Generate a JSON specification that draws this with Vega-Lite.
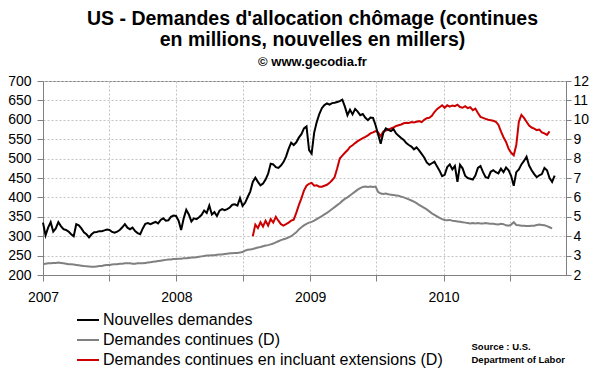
{
"$schema":"https://vega.github.io/schema/vega-lite/v6.json",
"width":523,"height":194,
"autosize":{"type":"none"},
"padding":{"left":43,"top":81,"right":34,"bottom":97},
"background":"white",
"title":{"text":["US - Demandes d'allocation chômage (continues","en millions, nouvelles en millers)"],"subtitle":"© www.gecodia.fr","font":"Liberation Sans","fontSize":19.5,"fontWeight":"bold","lineHeight":21,"color":"black","subtitleFont":"Liberation Sans","subtitleFontSize":13,"subtitleFontWeight":"bold","subtitleColor":"black","subtitlePadding":6,"anchor":"middle","frame":"group","offset":4,"dx":8},
"data":{"values":[
{"d":"2007-01-01","n":335,"c":2.56},{"d":"2007-01-08","n":302,"c":2.58},{"d":"2007-01-15","n":322,"c":2.6},{"d":"2007-01-22","n":336,"c":2.6},{"d":"2007-01-29","n":312,"c":2.62},
{"d":"2007-02-05","n":320,"c":2.62},{"d":"2007-02-12","n":336,"c":2.64},{"d":"2007-02-19","n":326,"c":2.62},{"d":"2007-02-26","n":318,"c":2.6},
{"d":"2007-03-05","n":316,"c":2.58},{"d":"2007-03-12","n":312,"c":2.56},{"d":"2007-03-19","n":305,"c":2.55},{"d":"2007-03-26","n":300,"c":2.54},
{"d":"2007-04-02","n":331,"c":2.52},{"d":"2007-04-09","n":328,"c":2.5},{"d":"2007-04-16","n":320,"c":2.48},{"d":"2007-04-23","n":310,"c":2.46},{"d":"2007-04-30","n":305,"c":2.45},
{"d":"2007-05-07","n":297,"c":2.44},{"d":"2007-05-14","n":305,"c":2.42},{"d":"2007-05-21","n":310,"c":2.42},{"d":"2007-05-28","n":311,"c":2.44},
{"d":"2007-06-04","n":313,"c":2.46},{"d":"2007-06-11","n":313,"c":2.46},{"d":"2007-06-18","n":315,"c":2.5},{"d":"2007-06-25","n":317,"c":2.52},
{"d":"2007-07-02","n":316,"c":2.52},{"d":"2007-07-09","n":311,"c":2.54},{"d":"2007-07-16","n":309,"c":2.56},{"d":"2007-07-23","n":312,"c":2.56},{"d":"2007-07-30","n":316,"c":2.58},
{"d":"2007-08-06","n":323,"c":2.58},{"d":"2007-08-13","n":331,"c":2.6},{"d":"2007-08-20","n":322,"c":2.6},{"d":"2007-08-27","n":318,"c":2.6},
{"d":"2007-09-03","n":322,"c":2.58},{"d":"2007-09-10","n":313,"c":2.58},{"d":"2007-09-17","n":308,"c":2.6},{"d":"2007-09-24","n":305,"c":2.6},
{"d":"2007-10-01","n":320,"c":2.6},{"d":"2007-10-08","n":332,"c":2.62},{"d":"2007-10-15","n":334,"c":2.64},{"d":"2007-10-22","n":331,"c":2.66},{"d":"2007-10-29","n":334,"c":2.68},
{"d":"2007-11-05","n":337,"c":2.7},{"d":"2007-11-12","n":333,"c":2.72},{"d":"2007-11-19","n":342,"c":2.74},{"d":"2007-11-26","n":346,"c":2.76},
{"d":"2007-12-03","n":340,"c":2.78},{"d":"2007-12-10","n":341,"c":2.8},{"d":"2007-12-17","n":350,"c":2.8},{"d":"2007-12-24","n":353,"c":2.82},{"d":"2007-12-31","n":352,"c":2.82},
{"d":"2008-01-07","n":340,"c":2.84},{"d":"2008-01-14","n":316,"c":2.84},{"d":"2008-01-21","n":346,"c":2.86},{"d":"2008-01-28","n":368,"c":2.86},
{"d":"2008-02-04","n":356,"c":2.88},{"d":"2008-02-11","n":338,"c":2.9},{"d":"2008-02-18","n":346,"c":2.9},{"d":"2008-02-25","n":344,"c":2.92},
{"d":"2008-03-03","n":349,"c":2.94},{"d":"2008-03-10","n":355,"c":2.96},{"d":"2008-03-17","n":366,"c":2.98},{"d":"2008-03-24","n":360,"c":3.0},{"d":"2008-03-31","n":379,"c":3.0},
{"d":"2008-04-07","n":356,"c":3.02},{"d":"2008-04-14","n":362,"c":3.02},{"d":"2008-04-21","n":352,"c":3.04},{"d":"2008-04-28","n":366,"c":3.06},
{"d":"2008-05-05","n":370,"c":3.06},{"d":"2008-05-12","n":367,"c":3.08},{"d":"2008-05-19","n":370,"c":3.1},{"d":"2008-05-26","n":374,"c":3.12},
{"d":"2008-06-02","n":381,"c":3.12},{"d":"2008-06-09","n":382,"c":3.14},{"d":"2008-06-16","n":379,"c":3.14},{"d":"2008-06-23","n":398,"c":3.16},{"d":"2008-06-30","n":378,"c":3.18},
{"d":"2008-07-07","n":386,"c":3.26},{"d":"2008-07-14","n":401,"c":3.3},{"d":"2008-07-21","n":415,"c":3.32},{"d":"2008-07-28","n":440,"c":3.34,"e":4.0},
{"d":"2008-08-04","n":451,"c":3.38,"e":4.6},{"d":"2008-08-11","n":440,"c":3.42,"e":4.42},{"d":"2008-08-18","n":431,"c":3.44,"e":4.72},{"d":"2008-08-25","n":436,"c":3.48,"e":4.5},
{"d":"2008-09-01","n":446,"c":3.52,"e":4.8},{"d":"2008-09-08","n":461,"c":3.54,"e":4.55},{"d":"2008-09-15","n":487,"c":3.58,"e":4.88},{"d":"2008-09-22","n":485,"c":3.62,"e":4.7},{"d":"2008-09-29","n":478,"c":3.68,"e":5.0},
{"d":"2008-10-06","n":476,"c":3.74,"e":4.8},{"d":"2008-10-13","n":482,"c":3.8,"e":4.62},{"d":"2008-10-20","n":491,"c":3.84,"e":4.55},{"d":"2008-10-27","n":505,"c":3.88,"e":4.62},
{"d":"2008-11-03","n":525,"c":3.94,"e":4.7},{"d":"2008-11-10","n":541,"c":4.0,"e":4.8},{"d":"2008-11-17","n":535,"c":4.1,"e":4.85},{"d":"2008-11-24","n":542,"c":4.2,"e":5.2},
{"d":"2008-12-01","n":554,"c":4.35,"e":5.6},{"d":"2008-12-08","n":563,"c":4.46,"e":5.95},{"d":"2008-12-15","n":578,"c":4.56,"e":6.35},{"d":"2008-12-22","n":583,"c":4.64,"e":6.6},{"d":"2008-12-29","n":522,"c":4.7,"e":6.7},
{"d":"2009-01-05","n":513,"c":4.74,"e":6.75},{"d":"2009-01-12","n":567,"c":4.8,"e":6.6},{"d":"2009-01-19","n":594,"c":4.88,"e":6.62},{"d":"2009-01-26","n":615,"c":4.96,"e":6.55},
{"d":"2009-02-02","n":630,"c":5.04,"e":6.55},{"d":"2009-02-09","n":638,"c":5.12,"e":6.6},{"d":"2009-02-16","n":642,"c":5.2,"e":6.65},{"d":"2009-02-23","n":639,"c":5.3,"e":6.75},
{"d":"2009-03-02","n":643,"c":5.4,"e":6.88},{"d":"2009-03-09","n":644,"c":5.5,"e":7.05},{"d":"2009-03-16","n":646,"c":5.6,"e":7.5},{"d":"2009-03-23","n":648,"c":5.7,"e":8.0},{"d":"2009-03-30","n":652,"c":5.82,"e":8.15},
{"d":"2009-04-06","n":634,"c":5.92,"e":8.3},{"d":"2009-04-13","n":612,"c":6.0,"e":8.43},{"d":"2009-04-20","n":626,"c":6.1,"e":8.6},{"d":"2009-04-27","n":614,"c":6.2,"e":8.69},
{"d":"2009-05-04","n":628,"c":6.3,"e":8.8},{"d":"2009-05-11","n":621,"c":6.4,"e":8.9},{"d":"2009-05-18","n":612,"c":6.48,"e":8.98},{"d":"2009-05-25","n":615,"c":6.54,"e":9.05},
{"d":"2009-06-01","n":605,"c":6.56,"e":9.12},{"d":"2009-06-08","n":599,"c":6.54,"e":9.2},{"d":"2009-06-15","n":606,"c":6.56,"e":9.3},{"d":"2009-06-22","n":605,"c":6.54,"e":9.35},{"d":"2009-06-29","n":586,"c":6.56,"e":9.42},
{"d":"2009-07-06","n":562,"c":6.28,"e":9.35},{"d":"2009-07-13","n":538,"c":6.2,"e":9.15},{"d":"2009-07-20","n":566,"c":6.18,"e":9.4},{"d":"2009-07-27","n":578,"c":6.2,"e":9.45},
{"d":"2009-08-03","n":574,"c":6.16,"e":9.5},{"d":"2009-08-10","n":571,"c":6.14,"e":9.55},{"d":"2009-08-17","n":576,"c":6.12,"e":9.6},{"d":"2009-08-24","n":565,"c":6.1,"e":9.68},{"d":"2009-08-31","n":559,"c":6.08,"e":9.72},
{"d":"2009-09-07","n":553,"c":6.04,"e":9.76},{"d":"2009-09-14","n":548,"c":6.0,"e":9.82},{"d":"2009-09-21","n":540,"c":5.95,"e":9.85},{"d":"2009-09-28","n":535,"c":5.9,"e":9.84},
{"d":"2009-10-05","n":531,"c":5.84,"e":9.88},{"d":"2009-10-12","n":524,"c":5.78,"e":9.86},{"d":"2009-10-19","n":529,"c":5.7,"e":9.9},{"d":"2009-10-26","n":521,"c":5.62,"e":9.93},
{"d":"2009-11-02","n":512,"c":5.54,"e":9.88},{"d":"2009-11-09","n":503,"c":5.46,"e":10.0},{"d":"2009-11-16","n":490,"c":5.38,"e":10.08},{"d":"2009-11-23","n":484,"c":5.28,"e":10.1},{"d":"2009-11-30","n":488,"c":5.18,"e":10.2},
{"d":"2009-12-07","n":492,"c":5.1,"e":10.4},{"d":"2009-12-14","n":480,"c":5.02,"e":10.55},{"d":"2009-12-21","n":469,"c":4.94,"e":10.65},{"d":"2009-12-28","n":455,"c":4.88,"e":10.75},
{"d":"2010-01-04","n":458,"c":4.84,"e":10.62},{"d":"2010-01-11","n":478,"c":4.82,"e":10.75},{"d":"2010-01-18","n":485,"c":4.84,"e":10.68},{"d":"2010-01-25","n":472,"c":4.8,"e":10.74},
{"d":"2010-02-01","n":481,"c":4.78,"e":10.7},{"d":"2010-02-08","n":440,"c":4.76,"e":10.78},{"d":"2010-02-15","n":484,"c":4.74,"e":10.66},{"d":"2010-02-22","n":475,"c":4.72,"e":10.62},
{"d":"2010-03-01","n":456,"c":4.7,"e":10.7},{"d":"2010-03-08","n":450,"c":4.68,"e":10.6},{"d":"2010-03-15","n":448,"c":4.66,"e":10.65},{"d":"2010-03-22","n":446,"c":4.68,"e":10.5},{"d":"2010-03-29","n":456,"c":4.66,"e":10.58},
{"d":"2010-04-05","n":476,"c":4.68,"e":10.35},{"d":"2010-04-12","n":481,"c":4.66,"e":10.15},{"d":"2010-04-19","n":465,"c":4.66,"e":10.1},{"d":"2010-04-26","n":452,"c":4.68,"e":10.05},
{"d":"2010-05-03","n":450,"c":4.66,"e":10.0},{"d":"2010-05-10","n":466,"c":4.64,"e":9.98},{"d":"2010-05-17","n":470,"c":4.64,"e":9.95},{"d":"2010-05-24","n":465,"c":4.62,"e":9.9},{"d":"2010-05-31","n":462,"c":4.6,"e":9.75},
{"d":"2010-06-07","n":474,"c":4.64,"e":9.4},{"d":"2010-06-14","n":465,"c":4.62,"e":9.1},{"d":"2010-06-21","n":477,"c":4.56,"e":8.86},{"d":"2010-06-28","n":470,"c":4.54,"e":8.5},
{"d":"2010-07-05","n":455,"c":4.6,"e":8.3},{"d":"2010-07-12","n":430,"c":4.72,"e":8.17},{"d":"2010-07-19","n":465,"c":4.58,"e":8.7},{"d":"2010-07-26","n":472,"c":4.56,"e":9.9},
{"d":"2010-08-02","n":485,"c":4.54,"e":10.25},{"d":"2010-08-09","n":494,"c":4.54,"e":10.1},{"d":"2010-08-16","n":505,"c":4.52,"e":9.9},{"d":"2010-08-23","n":482,"c":4.52,"e":9.7},{"d":"2010-08-30","n":470,"c":4.54,"e":9.6},
{"d":"2010-09-06","n":460,"c":4.54,"e":9.55},{"d":"2010-09-13","n":452,"c":4.58,"e":9.47},{"d":"2010-09-20","n":457,"c":4.6,"e":9.5},{"d":"2010-09-27","n":460,"c":4.58,"e":9.35},
{"d":"2010-10-04","n":476,"c":4.56,"e":9.3},{"d":"2010-10-11","n":470,"c":4.52,"e":9.22},{"d":"2010-10-18","n":450,"c":4.46,"e":9.4},{"d":"2010-10-25","n":440,"c":4.4},
{"d":"2010-11-01","n":456}
]},
"layer":[
{"layer":[
{"mark":{"type":"line","strokeWidth":2},
"encoding":{
"x":{"field":"d","type":"temporal","scale":{"type":"utc","domain":[{"year":2007,"month":1,"date":1,"utc":true},{"year":2010,"month":12,"date":2,"utc":true}]}},
"y":{"field":"c","type":"quantitative","scale":{"domain":[2,12]},"axis":{"orient":"right","values":[2,3,4,5,6,7,8,9,10,11,12],"grid":false,"tickSize":5,"labelPadding":2,"title":null}},
"color":{"datum":"Demandes continues (D)","type":"nominal"}}},
{"mark":{"type":"line","strokeWidth":2},
"encoding":{
"x":{"field":"d","type":"temporal"},
"y":{"field":"e","type":"quantitative","scale":{"domain":[2,12]},"axis":{"orient":"right","values":[2,3,4,5,6,7,8,9,10,11,12],"grid":false,"tickSize":5,"labelPadding":2,"title":null}},
"color":{"datum":"Demandes continues en incluant extensions (D)","type":"nominal"}}}
]},
{"mark":{"type":"line","strokeWidth":2},
"encoding":{
"x":{"field":"d","type":"temporal","axis":{"values":[
{"year":2007,"month":1,"date":1,"utc":true},{"year":2007,"month":4,"date":1,"utc":true},{"year":2007,"month":7,"date":1,"utc":true},{"year":2007,"month":10,"date":1,"utc":true},
{"year":2008,"month":1,"date":1,"utc":true},{"year":2008,"month":4,"date":1,"utc":true},{"year":2008,"month":7,"date":1,"utc":true},{"year":2008,"month":10,"date":1,"utc":true},
{"year":2009,"month":1,"date":1,"utc":true},{"year":2009,"month":4,"date":1,"utc":true},{"year":2009,"month":7,"date":1,"utc":true},{"year":2009,"month":10,"date":1,"utc":true},
{"year":2010,"month":1,"date":1,"utc":true},{"year":2010,"month":4,"date":1,"utc":true},{"year":2010,"month":7,"date":1,"utc":true},{"year":2010,"month":10,"date":1,"utc":true}],
"labelExpr":"utcmonth(datum.value)==0 ? utcFormat(datum.value,'%Y') : ''","grid":true,"tickSize":6,"labelPadding":9,"labelFlush":false,"labelOverlap":false,
"title":["Source : U.S.","Department of Labor"],"titleX":428,"titleY":74,"titleAlign":"left","titleAnchor":"start","titleBaseline":"alphabetic","titleFontSize":9.5,"titleFontWeight":"bold","titleLineHeight":13.5,"titleFont":"Liberation Sans","titleColor":"black"}},
"y":{"field":"n","type":"quantitative","scale":{"domain":[200,700]},"axis":{"orient":"left","values":[200,250,300,350,400,450,500,550,600,650,700],"grid":true,"tickSize":6,"labelPadding":6,"title":null}},
"color":{"datum":"Nouvelles demandes","type":"nominal","scale":{"domain":["Nouvelles demandes","Demandes continues (D)","Demandes continues en incluant extensions (D)"],"range":["#000000","#808080","#cc0000"]},
"legend":{"orient":"none","legendX":33,"legendY":227,"title":null,"direction":"vertical","symbolType":"stroke","symbolSize":484,"symbolStrokeWidth":2,"labelFont":"Liberation Sans","labelFontSize":16,"labelColor":"black","labelLimit":500,"rowPadding":-10,"labelOffset":3,"padding":0}}}}
],
"resolve":{"scale":{"y":"independent"}},
"config":{
"font":"Liberation Sans",
"view":{"stroke":"#808080"},
"axis":{"labelFont":"Liberation Sans","labelFontSize":14,"labelColor":"black","domainColor":"#808080","tickColor":"#808080","gridColor":"#c4c4c4","gridDash":[2,2],"gridWidth":1}
}
}
